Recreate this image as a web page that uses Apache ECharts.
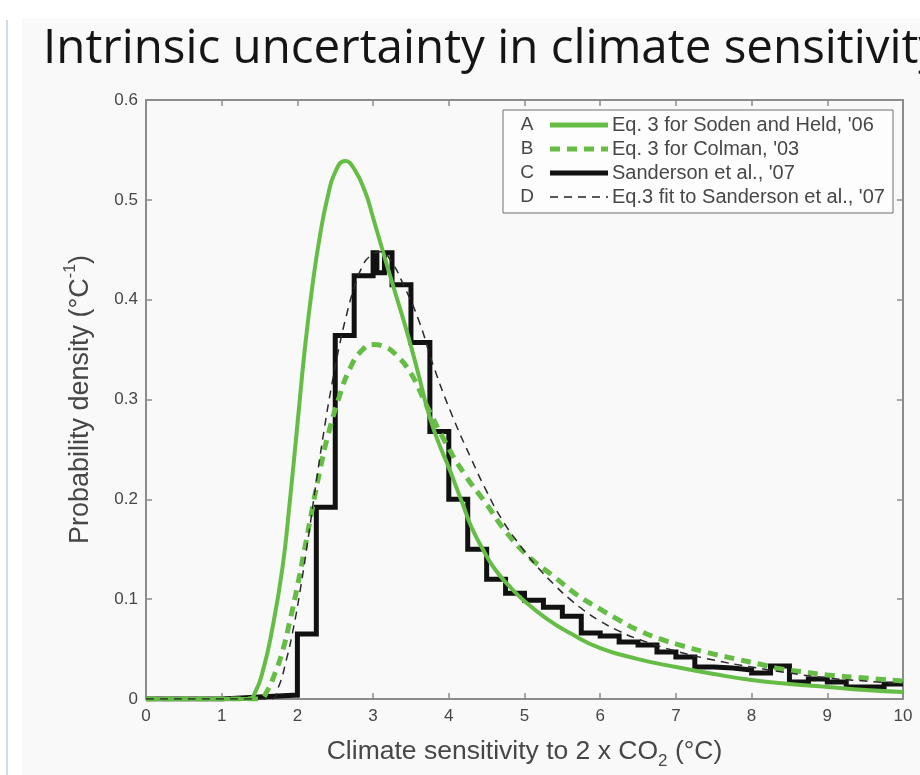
<!DOCTYPE html>
<html>
<head>
<meta charset="utf-8">
<title>Intrinsic uncertainty in climate sensitivity</title>
<script src="https://cdn.jsdelivr.net/npm/echarts@6.0.0/dist/echarts.min.js"></script>
<style>
  html, body { margin: 0; padding: 0; background: #ffffff; }
  #chart { width: 920px; height: 775px; }
</style>
</head>
<body>
<div id="chart"></div>
<script>
// Sanderson et al. '07 histogram: bin edges and bin heights
const histEdges = [0, 1, 1.5, 2, 2.25, 2.5, 2.75, 3.0, 3.05, 3.15, 3.25, 3.5, 3.75, 4.0, 4.25, 4.5, 4.75, 5.0,
    5.25, 5.5, 5.75, 6.0, 6.25, 6.5, 6.75, 7.0, 7.25, 7.5, 7.75, 8.0, 8.25, 8.5, 8.75, 9.0, 9.25, 9.5, 9.75, 10];
const histValues = [0, 0.002, 0.004, 0.065, 0.192, 0.364, 0.424, 0.447, 0.427, 0.447, 0.415, 0.357, 0.268, 0.200,
    0.150, 0.120, 0.106, 0.099, 0.092, 0.083, 0.066, 0.063, 0.057, 0.054, 0.047, 0.042, 0.032, 0.031, 0.029,
    0.026, 0.033, 0.017, 0.020, 0.017, 0.012, 0.012, 0.015];

// A: Eq. 3 for Soden and Held, '06
const sodenX = [0, 1.35, 1.45, 1.55, 1.65, 1.8, 1.9, 2.0, 2.1, 2.2, 2.3, 2.4, 2.5, 2.63, 2.75, 2.9, 3.0, 3.15, 3.3,
    3.45, 3.6, 3.7, 3.8, 3.9, 4.0, 4.1, 4.2, 4.3, 4.45, 4.6, 4.8, 5.0, 5.3, 5.6, 6.0, 6.5, 7.0, 7.5, 8.0, 8.5, 9.0, 9.5, 10];
const sodenY = [0, 0, 0.008, 0.030, 0.063, 0.130, 0.198, 0.275, 0.352, 0.415, 0.465, 0.503, 0.528, 0.539, 0.531,
    0.507, 0.482, 0.443, 0.405, 0.367, 0.325, 0.295, 0.270, 0.250, 0.232, 0.212, 0.192, 0.172, 0.150, 0.131, 0.113,
    0.098, 0.080, 0.066, 0.051, 0.040, 0.032, 0.025, 0.019, 0.015, 0.012, 0.009, 0.007];

// B: Eq. 3 for Colman, '03
const colmanX = [0, 1.5, 1.6, 1.7, 1.8, 1.9, 2.0, 2.1, 2.2, 2.3, 2.4, 2.55, 2.7, 2.85, 3.0, 3.15, 3.3, 3.5, 3.7, 3.95,
    4.2, 4.5, 4.75, 5.05, 5.4, 5.7, 6.0, 6.25, 6.5, 6.8, 7.1, 7.5, 7.8, 8.1, 8.4, 8.7, 9.0, 9.5, 10];
const colmanY = [0, 0, 0.008, 0.025, 0.047, 0.078, 0.113, 0.152, 0.192, 0.230, 0.263, 0.302, 0.332, 0.349, 0.355,
    0.353, 0.345, 0.326, 0.295, 0.258, 0.226, 0.195, 0.168, 0.143, 0.122, 0.104, 0.090, 0.079, 0.069, 0.060, 0.053,
    0.045, 0.040, 0.035, 0.030, 0.027, 0.024, 0.021, 0.018];

// D: Eq.3 fit to Sanderson et al., '07
const fitX = [0, 1.65, 1.75, 1.85, 1.95, 2.05, 2.15, 2.25, 2.35, 2.45, 2.55, 2.65, 2.75, 2.85, 2.95, 3.1, 3.25, 3.4,
    3.6, 3.8, 4.05, 4.3, 4.5, 4.7, 4.95, 5.15, 5.4, 5.6, 5.8, 6.0, 6.25, 6.5, 7.0, 7.5, 8.0, 8.5, 9.0, 9.5, 10];
const fitY = [0, 0, 0.012, 0.038, 0.072, 0.115, 0.165, 0.218, 0.268, 0.313, 0.352, 0.385, 0.412, 0.432, 0.443, 0.448,
    0.437, 0.415, 0.380, 0.333, 0.283, 0.240, 0.208, 0.180, 0.153, 0.134, 0.114, 0.100, 0.088, 0.078, 0.068, 0.060,
    0.048, 0.039, 0.032, 0.026, 0.021, 0.018, 0.015];

const legendKeys = ['A', 'B', 'C', 'D'];
const legendNames = ["Eq. 3 for Soden and Held, '06", "Eq. 3 for Colman, '03", "Sanderson et al., '07",
    "Eq.3 fit to Sanderson et al., '07"];

const GREEN = '#66bd46';
const AXIS = '#8c8c8c';
const TXT = '#474747';
const FONT = 'Liberation Sans, Arial, sans-serif';

const zip = (xs, ys) => xs.map((x, i) => [x, ys[i]]);
const histData = histEdges.map((e, i) => [e, histValues[Math.min(i, histValues.length - 1)]]);

const chart = echarts.init(document.getElementById('chart'));

const baseAxis = {
    type: 'value',
    splitLine: { show: false },
    axisLine: { show: true, onZero: false, lineStyle: { color: AXIS, width: 2 } },
    axisTick: { show: true, inside: true, length: 6, lineStyle: { color: AXIS, width: 1.5 } },
    axisLabel: { color: TXT, fontFamily: FONT, fontSize: 17 }
};

// legend drawn as graphic (letters + line samples + names)
const legendStyles = [
    { stroke: GREEN, lineWidth: 5, lineDash: null },
    { stroke: GREEN, lineWidth: 5, lineDash: [10, 7] },
    { stroke: '#111111', lineWidth: 5, lineDash: null },
    { stroke: '#222222', lineWidth: 1.5, lineDash: [8, 6] }
];
const legendGraphic = [{
    type: 'rect', shape: { x: 503, y: 110, width: 390, height: 103 },
    style: { fill: '#fdfdfd', stroke: '#6f6f6f', lineWidth: 1 }, z: 100
}];
legendKeys.forEach((k, i) => {
    const cy = 125 + i * 24;
    legendGraphic.push({
        type: 'text', x: 527, y: cy, z: 101,
        style: { text: k, fill: TXT, font: '19px ' + FONT, align: 'center', verticalAlign: 'middle' }
    });
    legendGraphic.push({
        type: 'line', shape: { x1: 550, y1: cy, x2: 608, y2: cy }, z: 101,
        style: legendStyles[i]
    });
    legendGraphic.push({
        type: 'text', x: 612, y: cy, z: 101,
        style: { text: legendNames[i], fill: TXT, font: '20px ' + FONT, align: 'left', verticalAlign: 'middle' }
    });
});

const curve = (name, xs, ys, style, z) => ({
    name: name, type: 'line', data: zip(xs, ys), smooth: 0.5,
    showSymbol: false, symbol: 'none', lineStyle: style, z: z
});

const option = {
    animation: false,
    backgroundColor: '#ffffff',
    title: {
        text: 'Intrinsic uncertainty in climate sensitivity',
        left: 38, top: 20,
        textStyle: { fontFamily: 'Open Sans', fontSize: 47.5, fontWeight: 'normal', color: '#151515' }
    },
    graphic: [
        { type: 'rect', shape: { x: 22, y: 18, width: 898, height: 757 }, style: { fill: '#f9f9f9' }, z: -10 },
        { type: 'rect', shape: { x: 6, y: 20, width: 2, height: 755 }, style: { fill: '#d3dce2' }, z: -10 }
    ].concat(legendGraphic),
    grid: { left: 146, right: 17, top: 100, bottom: 76 },
    xAxis: [
        Object.assign({}, baseAxis, {
            min: 0, max: 10, interval: 1, position: 'bottom',
            name: 'Climate sensitivity to 2 x CO{sub|2} (°C)',
            nameLocation: 'middle', nameGap: 35,
            nameTextStyle: {
                color: TXT, fontFamily: FONT, fontSize: 26.5, lineHeight: 36,
                rich: { sub: { fontFamily: FONT, fontSize: 17, color: TXT, lineHeight: 36, verticalAlign: 'bottom' } }
            },
            axisLabel: { color: TXT, fontFamily: FONT, fontSize: 17, margin: 9 }
        }),
        Object.assign({}, baseAxis, {
            min: 0, max: 10, interval: 1, position: 'top', axisLabel: { show: false }
        })
    ],
    yAxis: [
        Object.assign({}, baseAxis, {
            min: 0, max: 0.6, interval: 0.1, position: 'left',
            name: 'Probability density (°C{sup|-1})',
            nameLocation: 'middle', nameGap: 47, nameRotate: 90,
            nameTextStyle: {
                color: TXT, fontFamily: FONT, fontSize: 27, lineHeight: 36,
                rich: { sup: { fontFamily: FONT, fontSize: 16, color: TXT, lineHeight: 36, verticalAlign: 'top' } }
            },
            axisLabel: { color: TXT, fontFamily: FONT, fontSize: 17, margin: 8 }
        }),
        Object.assign({}, baseAxis, {
            min: 0, max: 0.6, interval: 0.1, position: 'right', axisLabel: { show: false }
        })
    ],
    series: [
        {
            name: legendNames[2], type: 'line', step: 'end', data: histData,
            showSymbol: false, symbol: 'none',
            lineStyle: { color: '#111111', width: 5, join: 'miter' }, z: 2
        },
        curve(legendNames[0], sodenX, sodenY, { color: GREEN, width: 4 }, 3),
        curve(legendNames[1], colmanX, colmanY, { color: GREEN, width: 5, type: [10, 7] }, 3),
        curve(legendNames[3], fitX, fitY, { color: '#2a2a2a', width: 1.5, type: [8, 6] }, 4)
    ]
};

chart.setOption(option);
</script>
</body>
</html>
